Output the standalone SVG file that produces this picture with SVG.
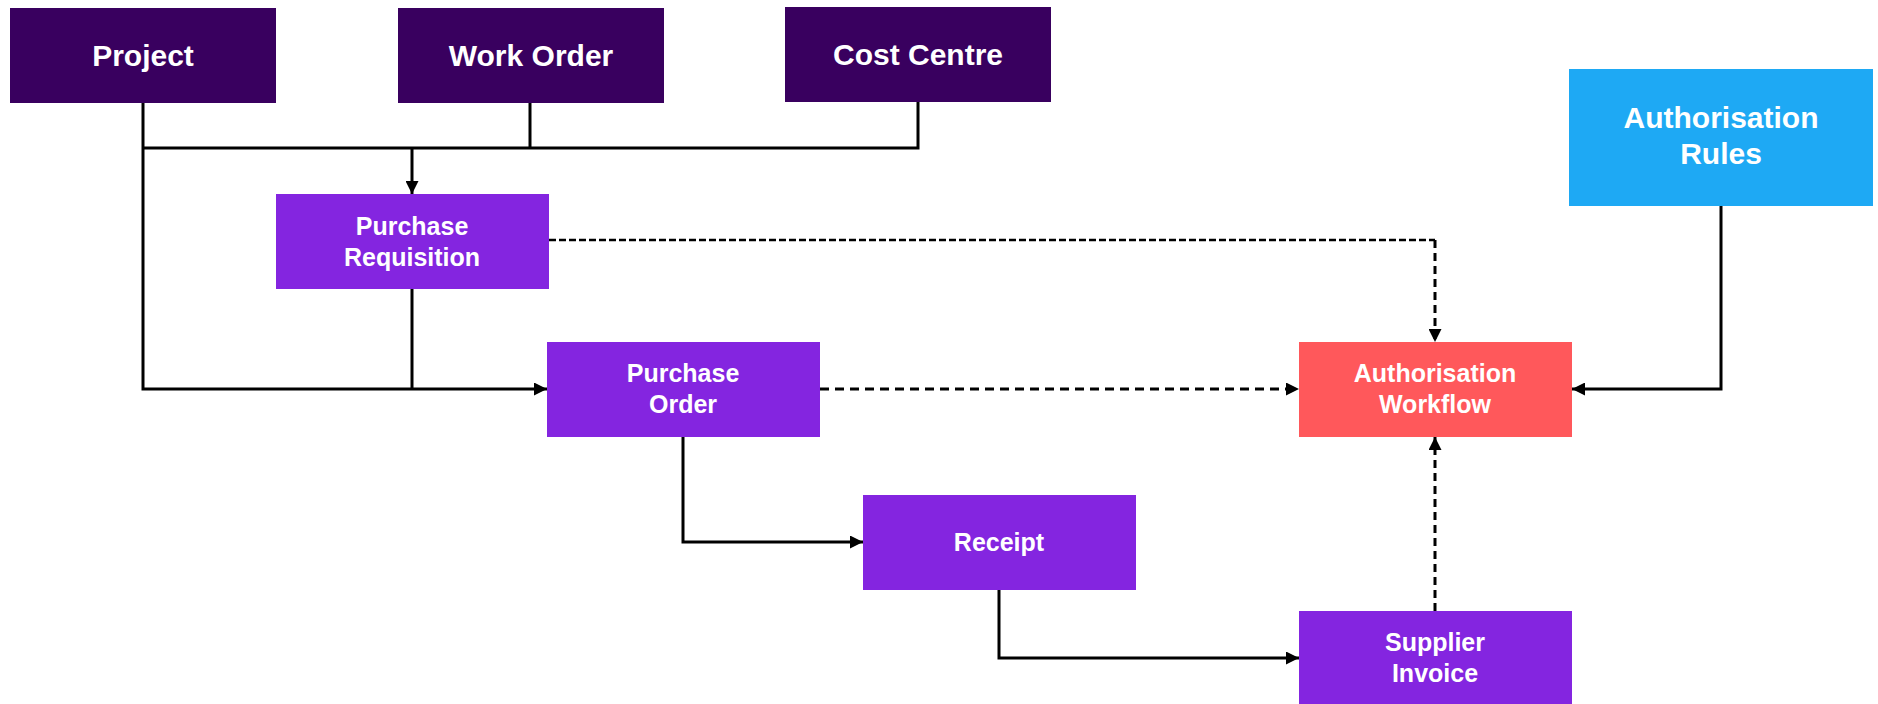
<svg xmlns="http://www.w3.org/2000/svg" width="1878" height="704" viewBox="0 0 1878 704">
<style>
.dark{fill:#39005F}
.mid{fill:#8425E0}
.blue{fill:#1EA9F4}
.red{fill:#FF585B}
.t{font-family:"Liberation Sans",Arial,sans-serif;font-weight:bold;fill:#fff;text-anchor:middle}
.big{font-size:30px}
.sm{font-size:25px}
.ln{fill:none;stroke:#000;stroke-width:3}
.dash{stroke-dasharray:8 5}
.dashw{stroke-dasharray:9 6}
.dashf{stroke-dasharray:7 3;stroke-width:2.5}
</style>
<defs>
<marker id="ah" viewBox="0 0 13 13" refX="13" refY="6.5" markerWidth="13" markerHeight="13" markerUnits="userSpaceOnUse" orient="auto">
<path d="M0,0 L13,6.5 L0,13 Z" fill="#000"/>
</marker>
</defs>
<rect width="1878" height="704" fill="#fff"/>
<g id="connectors">
<path class="ln" d="M143,103 V389 H547" marker-end="url(#ah)"/>
<path class="ln" d="M143,148 H918 V102"/>
<path class="ln" d="M530,103 V148"/>
<path class="ln" d="M412,148 V194" marker-end="url(#ah)"/>
<path class="ln" d="M412,289 V389"/>
<path class="ln dashf" d="M549,240 H1435"/>
<path class="ln dash" d="M1435,240 V342" marker-end="url(#ah)"/>
<path class="ln dashw" d="M820,389 H1299" marker-end="url(#ah)"/>
<path class="ln" d="M1721,206 V389 H1572" marker-end="url(#ah)"/>
<path class="ln" d="M683,437 V542 H863" marker-end="url(#ah)"/>
<path class="ln" d="M999,590 V658 H1299" marker-end="url(#ah)"/>
<path class="ln dash" d="M1435,611 V437" marker-end="url(#ah)"/>
</g>
<g id="project"><rect class="dark" x="10" y="8" width="266" height="95"/><text class="t big" x="143" y="66">Project</text></g>
<g id="work-order"><rect class="dark" x="398" y="8" width="266" height="95"/><text class="t big" x="531" y="66">Work Order</text></g>
<g id="cost-centre"><rect class="dark" x="785" y="7" width="266" height="95"/><text class="t big" x="918" y="65">Cost Centre</text></g>
<g id="authorisation-rules"><rect class="blue" x="1569" y="69" width="304" height="137"/><text class="t big"><tspan x="1721" y="128">Authorisation</tspan><tspan x="1721" y="164">Rules</tspan></text></g>
<g id="purchase-requisition"><rect class="mid" x="276" y="194" width="273" height="95"/><text class="t sm"><tspan x="412" y="235">Purchase</tspan><tspan x="412" y="266">Requisition</tspan></text></g>
<g id="purchase-order"><rect class="mid" x="547" y="342" width="273" height="95"/><text class="t sm"><tspan x="683" y="382">Purchase</tspan><tspan x="683" y="413">Order</tspan></text></g>
<g id="authorisation-workflow"><rect class="red" x="1299" y="342" width="273" height="95"/><text class="t sm"><tspan x="1435" y="382">Authorisation</tspan><tspan x="1435" y="413">Workflow</tspan></text></g>
<g id="receipt"><rect class="mid" x="863" y="495" width="273" height="95"/><text class="t sm" x="999" y="551">Receipt</text></g>
<g id="supplier-invoice"><rect class="mid" x="1299" y="611" width="273" height="95"/><text class="t sm"><tspan x="1435" y="651">Supplier</tspan><tspan x="1435" y="682">Invoice</tspan></text></g>
</svg>
